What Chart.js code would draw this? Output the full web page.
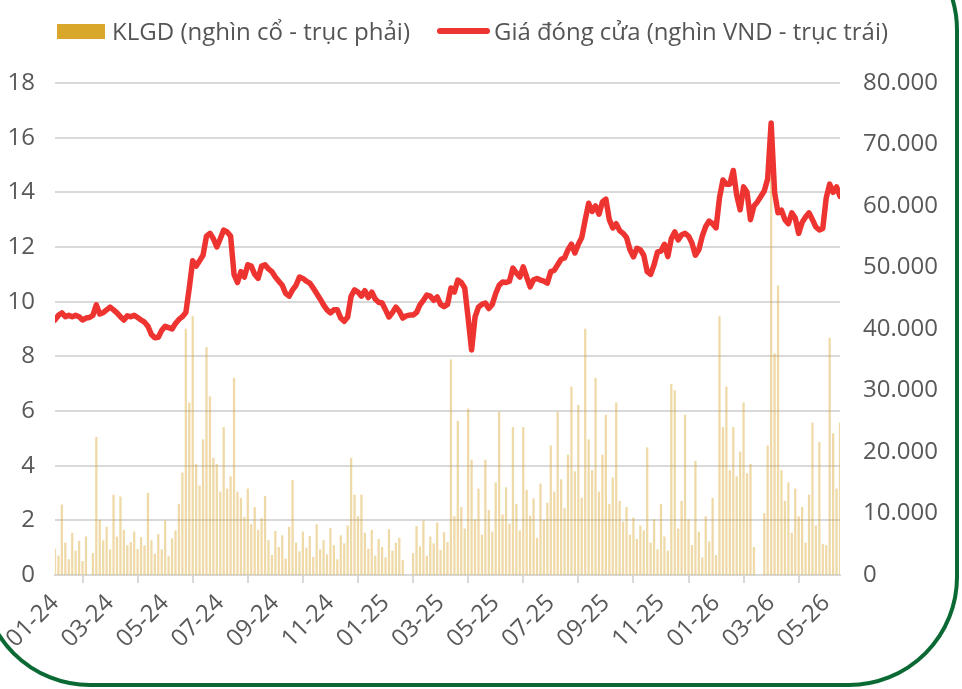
<!DOCTYPE html>
<html>
<head>
<meta charset="utf-8">
<script src="https://cdn.jsdelivr.net/npm/chart.js@4.4.1/dist/chart.umd.min.js"></script>
<style>
  html, body { margin: 0; padding: 0; background: #fff; overflow: hidden; }
  #wrap { position: relative; width: 962px; height: 689px; overflow: hidden; }
  #frame { position: absolute; left: -20px; top: -80px; width: 979px; height: 767px;
           border: 4px solid #0b6a34; border-radius: 110px; box-sizing: border-box; }
  #chart { position: absolute; left: 0; top: 0; }
  .lg { position: absolute; font-family: "Open Sans", sans-serif; font-size: 23px; color: #555;
        white-space: nowrap; transform-origin: 0 50%; line-height: 30px; top: 16px; }
  .sw { position: absolute; }
</style>
</head>
<body>
<div id="wrap">
  <div id="frame"></div>
  <canvas id="chart" width="962" height="689"></canvas>
  <div class="sw" style="left:57px;top:24px;width:48px;height:15px;background:#d9a82b"></div>
  <div class="lg" id="lg1" style="left:112px" data-w="298">KLGD (nghìn cổ - trục phải)</div>
  <div class="sw" style="left:437px;top:28px;width:53px;height:6px;background:#ee3431;border-radius:3px"></div>
  <div class="lg" id="lg2" style="left:494px" data-w="394">Giá đóng cửa (nghìn VND - trục trái)</div>
</div>
<script>
// 8 points per month, starting 01-2024
var PTS_PER_MONTH = 8;

// closing price (thousand VND, left axis)
var price = [
  9.33, 9.5, 9.59, 9.45, 9.5, 9.45, 9.5, 9.45, 9.33, 9.4,
  9.42, 9.5, 9.88, 9.55, 9.6, 9.7, 9.8, 9.7, 9.59, 9.45,
  9.33, 9.48, 9.45, 9.5, 9.42, 9.33, 9.25, 9.1, 8.8, 8.68,
  8.7, 8.95, 9.1, 9.05, 9.0, 9.2, 9.35, 9.45, 9.6, 10.5,
  11.5, 11.3, 11.5, 11.7, 12.4, 12.5, 12.3, 12.0, 12.3, 12.62,
  12.55, 12.4, 11.0, 10.7, 11.1, 10.9, 11.35, 11.3, 11.0, 10.85,
  11.3, 11.35, 11.2, 11.1, 10.9, 10.75, 10.6, 10.3, 10.2, 10.43,
  10.6, 10.9, 10.85, 10.75, 10.68, 10.5, 10.3, 10.1, 9.88, 9.7,
  9.59, 9.7, 9.7, 9.4, 9.28, 9.44, 10.2, 10.43, 10.35, 10.2,
  10.4, 10.15, 10.35, 10.1, 9.98, 9.95, 9.7, 9.44, 9.6, 9.8,
  9.65, 9.4, 9.48, 9.51, 9.51, 9.6, 9.88, 10.05, 10.24, 10.2,
  10.05, 10.17, 9.9, 9.82, 9.9, 10.5, 10.35, 10.79, 10.7, 10.5,
  9.4, 8.23, 9.44, 9.8, 9.9, 9.95, 9.75, 9.9, 10.3, 10.6,
  10.72, 10.7, 10.75, 11.23, 11.05, 10.9, 11.27, 10.9, 10.54, 10.8,
  10.85, 10.79, 10.75, 10.68, 11.1, 11.15, 11.35, 11.55, 11.6, 11.9,
  12.1, 11.78, 12.1, 12.35, 13.0, 13.6, 13.3, 13.5, 13.2, 13.65,
  13.75, 13.0, 12.7, 12.85, 12.6, 12.5, 12.35, 11.9, 11.64, 11.95,
  11.9, 11.7, 11.1, 11.0, 11.35, 11.82, 11.85, 12.1, 11.65, 12.3,
  12.55, 12.26, 12.45, 12.5, 12.4, 12.15, 11.7, 11.9, 12.4, 12.75,
  12.95, 12.85, 12.7, 13.8, 14.45, 14.3, 14.3, 14.8, 13.9, 13.36,
  14.2, 14.0, 13.0, 13.5, 13.65, 13.85, 14.05, 14.5, 16.54, 14.0,
  13.25, 13.35, 13.0, 12.85, 13.25, 13.06, 12.5, 12.9, 13.1, 13.25,
  13.0, 12.73, 12.62, 12.68, 13.8, 14.3, 14.0, 14.2, 13.85
];

// trading volume (thousand shares, right axis)
var volume = [
  4200, 3100, 11400, 5200, 2500, 6800, 3900, 5500, 2200, 6200,
  null, 3500, 22400, 8900, 5600, 7800, 4100, 13000, 6200, 12700,
  7300, 4800, 5300, 7000, 4200, 6100, 4800, 13300, 5600, 3400,
  6600, 4100, 8800, 3000, 5900, 7200, 11500, 16600, 40000, 28000,
  42000, 18000, 14500, 22000, 37000, 29000, 19000, 18000, 13500, 24000,
  14000, 16000, 32000, 13500, 12500, 9400, 14000, 8200, 11000, 7300,
  9200, 12800, 5600, 3200, 7100, 4500, 6400, 2600, 7800, 15400,
  5200, 3800, 7000, 4400, 6300, 2900, 8200, 4100, 5600, 3300,
  7600, 4800, 2500, 6400, 5100, 8000, 19000, 13000, 9500, 13000,
  6800, 4200, 7300, 3100, 5800, 4500, 2800, 7400, 3900, 5200,
  6000, 2400, null, null, 3500, 7900, 4600, 8800, 3100, 6200,
  5100, 8500, 4000, 6900, 5300, 35000, 9500, 25000, 11000, 7500,
  27000, 18700, 9000, 14000, 6500, 18700, 10500, 7000, 15000, 26500,
  9800, 14200, 8300, 24000, 11500, 7200, 24000, 13800, 9600, 12400,
  6000, 14800, 8900, 11700, 21000, 13500, 26500, 15500, 10800, 19500,
  30600, 16800, 27600, 12500, 40000, 22000, 17000, 32000, 13500, 19500,
  26000, 11500, 15800, 28000, 12000, 8600, 11000, 6500, 9300, 5800,
  8000, 7200, 20700, 5200, 9000, 4100, 11500, 6200, 3900, 31000,
  30000, 7500, 12000, 26000, 9000, 4800, 18500, 7000, 2800, 9500,
  5400, 12500, 3200, 42000, 24000, 30600, 17000, 24000, 16000, 20000,
  28000, 16500, 18000, 4500, null, null, 10000, 21000, 64700, 36000,
  47000, 17000, 12000, 15000, 6800, 14000, 9500, 11000, 5200, 13000,
  24700, 8000, 21600, 5000, 4800, 38500, 23000, 14000, 24700
];

var firstYear = 24;
var lastMonth = 28.5;

// legend texts squeezed to the narrow face of the original
document.querySelectorAll('.lg').forEach(function (el) {
  var w = el.getBoundingClientRect().width;
  el.style.transform = 'scaleX(' + (el.dataset.w / w) + ')';
});

function pad(n) { return (n < 10 ? '0' : '') + n; }
function dots(v) { return String(v).replace(/\B(?=(\d{3})+(?!\d))/g, '.'); }

var tickFont = { family: 'Open Sans', size: 24 };
var gray = '#595959';
var gridColor = '#d9d9d9';

var ctx = document.getElementById('chart').getContext('2d');
var myChart = new Chart(ctx, {
  data: {
    datasets: [{
      type: 'line',
      label: 'Giá đóng cửa (nghìn VND - trục trái)',
      data: price.map(function (v, i) { return { x: i / PTS_PER_MONTH, y: v }; }),
      yAxisID: 'yL',
      borderColor: '#ee3431',
      borderWidth: 5.5,
      borderJoinStyle: 'round',
      borderCapStyle: 'round',
      pointRadius: 0,
      tension: 0,
      order: 0
    }, {
      type: 'bar',
      label: 'KLGD (nghìn cổ - trục phải)',
      data: volume.map(function (v, i) { return { x: i / PTS_PER_MONTH, y: v }; }),
      yAxisID: 'yR',
      backgroundColor: 'rgba(218,165,42,0.42)',
      barThickness: 1.6,
      order: 1
    }]
  },
  options: {
    responsive: false,
    animation: false,
    devicePixelRatio: 1,
    layout: { padding: { top: 83, left: 0, right: 0, bottom: 0 } },
    plugins: { legend: { display: false }, tooltip: { enabled: false } },
    scales: {
      x: {
        type: 'linear',
        min: 0,
        max: lastMonth,
        offset: false,
        grid: { drawOnChartArea: false, drawTicks: true, tickLength: 8, color: gridColor, lineWidth: 2 },
        border: { color: gridColor, width: 2 },
        ticks: {
          stepSize: 2,
          includeBounds: false,
          autoSkip: false,
          maxRotation: 45,
          minRotation: 45,
          padding: 6,
          color: gray,
          font: tickFont,
          callback: function (v) {
            return pad(v % 12 + 1) + '-' + (firstYear + Math.floor(v / 12));
          }
        },
        afterFit: function (s) { s.height = 114; }
      },
      yL: {
        position: 'left',
        min: 0,
        max: 18,
        grid: { color: gridColor, lineWidth: 2, drawTicks: false },
        border: { display: false },
        ticks: { stepSize: 2, padding: 20, color: gray, font: tickFont },
        afterFit: function (s) { s.width = 55; }
      },
      yR: {
        position: 'right',
        min: 0,
        max: 80000,
        grid: { drawOnChartArea: false, drawTicks: false },
        border: { display: false },
        ticks: { stepSize: 10000, padding: 23, color: gray, font: tickFont, callback: dots },
        afterFit: function (s) { s.width = 122; }
      }
    }
  }
});
</script>
</body>
</html>
